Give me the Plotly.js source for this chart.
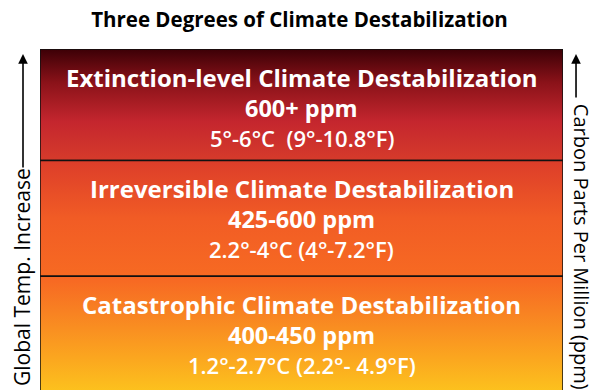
<!DOCTYPE html>
<html>
<head>
<meta charset="utf-8">
<script src="https://cdn.plot.ly/plotly-3.0.1.min.js"></script>
<style>html,body{margin:0;padding:0;background:#fff;}#chart{width:599px;height:390px;}</style>
</head>
<body>
<div id="chart"></div>
<script>
// Data (top to bottom)
const bandTitles = ["Extinction-level Climate Destabilization", "Irreversible Climate Destabilization", "Catastrophic Climate Destabilization"];
const bandPpm = ["600+ ppm", "425-600 ppm", "400-450 ppm"];
const bandTemp = ["5°-6°C&nbsp;&nbsp;(9°-10.8°F)", "2.2°-4°C (4°-7.2°F)", "1.2°-2.7°C (2.2°- 4.9°F)"];
const bandTop = [3, 2.02, 1];
const bandBottom = [2.02, 1, -0.1];
const bandColors = [
  [[0, "#d63b2b"], [0.35, "#c4262e"], [0.7, "#8a1219"], [1, "#3c0006"]],
  [[0, "#f76a22"], [0.5, "#f15c25"], [1, "#dc3d2a"]],
  [[0, "#fdca1d"], [0.35, "#fba61f"], [0.7, "#f88322"], [1, "#f76623"]]
];
const chartTitle = "Three Degrees of Climate Destabilization";
const leftLabel = "Global Temp. Increase";
const rightLabel = "Carbon Parts Per Million (ppm)";

const traces = bandTitles.map((t, i) => ({
  type: "scatter",
  mode: "lines",
  x: [0, 1, 1, 0, 0],
  y: [bandBottom[i], bandBottom[i], bandTop[i], bandTop[i], bandBottom[i]],
  fill: "toself",
  fillgradient: {type: "vertical", colorscale: bandColors[i], start: bandBottom[i], stop: bandTop[i]},
  line: {color: "#111", width: 1.5},
  hoverinfo: "skip",
  showlegend: false
}));

const annotations = [];
bandTitles.forEach((t, i) => {
  annotations.push({x: 0.5, y: bandTop[i], xref: "x", yref: "y", text: "<b>" + t + "</b>", showarrow: false,
    yanchor: "middle", yshift: -28, font: {family: "Open Sans", size: 24, color: "#fff"}});
  annotations.push({x: 0.5, y: bandTop[i], xref: "x", yref: "y", text: "<b>" + bandPpm[i] + "</b>", showarrow: false,
    yanchor: "middle", yshift: -59, font: {family: "Open Sans", size: 23.5, color: "#fff"}});
  annotations.push({x: 0.5, y: bandTop[i], xref: "x", yref: "y", text: bandTemp[i], showarrow: false,
    yanchor: "middle", yshift: -89, font: {family: "Open Sans", size: 22, color: "#fff", weight: 600}});
});
// side labels
annotations.push({x: -0.0344, y: 0.006, xref: "paper", yref: "paper", text: leftLabel, textangle: -90, showarrow: false,
  xanchor: "center", yanchor: "bottom", font: {family: "Open Sans", size: 21, color: "#000"}});
annotations.push({x: 1.0344, y: 0.845, xref: "paper", yref: "paper", text: rightLabel, textangle: 90, showarrow: false,
  xanchor: "center", yanchor: "top", font: {family: "Open Sans", size: 20, color: "#000"}});
// arrows
annotations.push({x: -0.0325, y: 0.985, xref: "paper", yref: "paper", text: "", showarrow: true, ax: 0, ay: 115,
  arrowhead: 2, arrowsize: 1.2, arrowwidth: 1.6, arrowcolor: "#000"});
annotations.push({x: 1.0249, y: 0.985, xref: "paper", yref: "paper", text: "", showarrow: true, ax: 0, ay: 45,
  arrowhead: 2, arrowsize: 1.2, arrowwidth: 1.6, arrowcolor: "#000"});

const layout = {
  width: 599, height: 390,
  margin: {l: 40, r: 36, t: 49, b: 0},
  paper_bgcolor: "#fff", plot_bgcolor: "#fff",
  title: {text: "<b>" + chartTitle + "</b>", x: 0.5, xref: "container", y: 1 - 20/390, yref: "container", yanchor: "middle",
    font: {family: "Open Sans", size: 20.5, color: "#000"}},
  xaxis: {range: [0, 1], visible: false, fixedrange: true},
  yaxis: {range: [0, 3], visible: false, fixedrange: true},
  annotations: annotations,
  showlegend: false
};

Plotly.newPlot("chart", traces, layout, {staticPlot: true, displayModeBar: false});
</script>
</body>
</html>
